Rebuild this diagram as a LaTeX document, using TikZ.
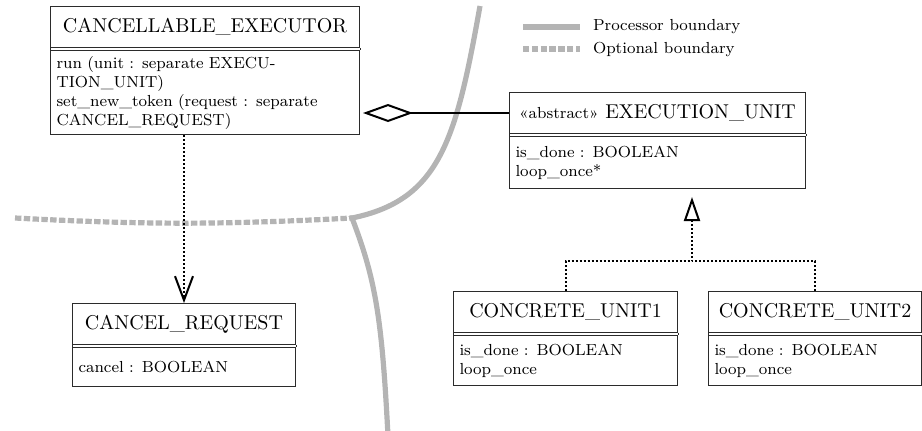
\documentclass[tikz,border=0pt]{standalone}
\usepackage{tikz}
\usetikzlibrary{positioning,arrows.meta}
\definecolor{boxline}{HTML}{2B2B2B}
\definecolor{bndgray}{HTML}{B4B4B4}

\begin{document}
\begin{tikzpicture}[x=1pt,y=1pt,
  umlhead/.style={draw=boxline,line width=0.5pt,anchor=north west,minimum height=20.5pt,inner xsep=3pt,align=center,font=\normalsize},
  umlbody/.style={draw=boxline,line width=0.5pt,inner xsep=3pt,inner ysep=2pt,align=left,font=\footnotesize},
  procbnd/.style={bndgray,line width=2.6pt},
  optbnd/.style={bndgray,line width=2.6pt,dash pattern=on 3.2pt off 1.2pt},
  agg/.style={{Diamond[open,length=25pt,width=9pt]}-,line width=1pt},
  dep/.style={-{Straight Barb[length=12pt,width=9pt]},line width=1pt,densely dotted},
  real/.style={-{Triangle[open,length=12pt,width=8pt]},line width=1pt,densely dotted,shorten >=4pt},
  legend/.style={anchor=west,font=\footnotesize}
]
  \useasboundingbox (0,0) rectangle (461,-215);

  % boundaries
  \draw[procbnd] (240,-3) .. controls (228,-70) and (220,-100) .. (176,-109)
                          .. controls (188,-140) and (191,-160) .. (194,-218);
  \draw[optbnd] (7.5,-109) to[bend right=3] (176,-109);

  % legend
  \coordinate (pb1) at (261.5,-13.5);
  \coordinate (pb2) at (290,-13.5);
  \coordinate (ob1) at (261.5,-24.5);
  \coordinate (ob2) at (290,-24.5);
  \draw[procbnd] (pb1) -- (pb2);
  \draw[optbnd] (ob1) -- (ob2);
  \node[legend] (pbtext) at (293,-13.5) {Processor boundary};
  \node[legend] (obtext) at (293,-24.5) {Optional boundary};

  % classes
  \node[umlhead,minimum width=154.5pt] (exh) at (25,-3) {CANCELLABLE\_EXECUTOR};
  \node[umlbody,below=1pt of exh,text width=148.5pt,minimum height=42pt] (exb)
    {run (unit : separate EXECU-\\TION\_UNIT)\\set\_new\_token (request : separate\\CANCEL\_REQUEST)};

  \node[umlhead,minimum width=148pt] (euh) at (254.5,-46) {{\footnotesize «abstract»} EXECUTION\_UNIT};
  \node[umlbody,below=1pt of euh,text width=142pt,minimum height=26pt] (eub)
    {is\_done : BOOLEAN\\loop\_once*};

  \node[umlhead,minimum width=111.5pt] (crh) at (36,-151.5) {CANCEL\_REQUEST};
  \node[umlbody,below=1pt of crh,text width=105.5pt,minimum height=19.5pt] (crb)
    {cancel : BOOLEAN};

  \node[umlhead,minimum width=112pt] (cu1h) at (226.5,-145.5) {CONCRETE\_UNIT1};
  \node[umlbody,below=1pt of cu1h,text width=106pt,minimum height=25pt] (cu1b)
    {is\_done : BOOLEAN\\loop\_once};

  \node[umlhead,minimum width=106.5pt] (cu2h) at (354,-145.5) {CONCRETE\_UNIT2};
  \node[umlbody,below=1pt of cu2h,text width=100.5pt,minimum height=25pt] (cu2b)
    {is\_done : BOOLEAN\\loop\_once};

  % close the sides between head and body
  \foreach \c in {ex,eu,cr,cu1,cu2}
    \draw[boxline,line width=0.5pt] (\c h.south west) -- (\c b.north west)
                                    (\c h.south east) -- (\c b.north east);

  % relations
  \draw[agg] ([xshift=1.5pt]exb.east |- euh.west) -- (euh.west);
  \draw[dep] (exb.south -| crh.north) -- (crh.north);
  \coordinate (join) at (346,-130.5);
  \draw[real] (cu1h.north) |- (join) -- (join |- eub.south);
  \draw[line width=1pt,densely dotted] (cu2h.north) |- (join);
\end{tikzpicture}
\end{document}
